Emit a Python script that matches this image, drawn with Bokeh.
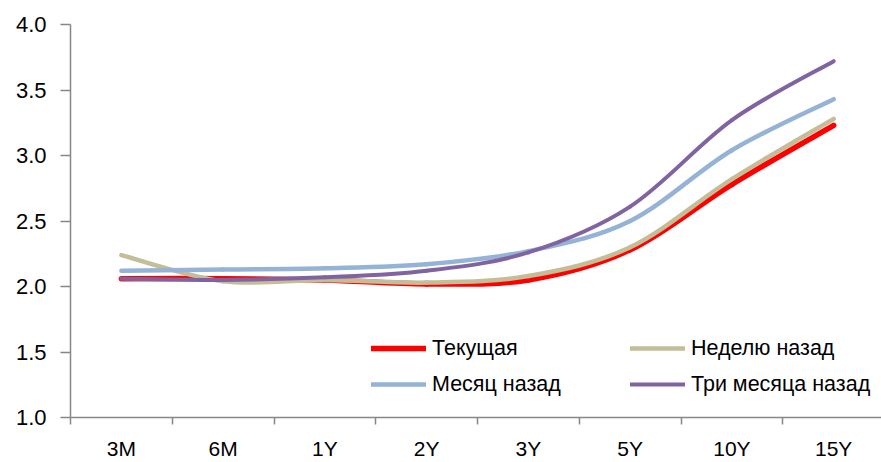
from bokeh.plotting import figure
from bokeh.models import FixedTicker, Range1d, Legend, LegendItem
from bokeh.embed import file_html
from bokeh.resources import INLINE

categories = ["3M", "6M", "1Y", "2Y", "3Y", "5Y", "10Y", "15Y"]
current = [2.06, 2.06, 2.05, 2.02, 2.05, 2.28, 2.78, 3.23]
week_ago = [2.24, 2.04, 2.05, 2.03, 2.08, 2.30, 2.82, 3.28]
month_ago = [2.12, 2.13, 2.14, 2.17, 2.27, 2.50, 3.04, 3.43]
three_months_ago = [2.06, 2.05, 2.07, 2.12, 2.26, 2.61, 3.27, 3.72]
series_names = ["Текущая", "Неделю назад", "Месяц назад", "Три месяца назад"]
y_ticks = [1.0, 1.5, 2.0, 2.5, 3.0, 3.5, 4.0]

series = [current, week_ago, month_ago, three_months_ago]
colors = ["#FF0000", "#C4BD97", "#95B3D7", "#8064A2"]
widths = [5.5, 4.5, 4.5, 4]

FONT = "Liberation Sans"

p = figure(width=881, height=462, output_backend="svg", toolbar_location=None,
           x_range=Range1d(0, 7.97), y_range=Range1d(1.0, 4.0),
           min_border_left=70, min_border_right=0, min_border_top=24, min_border_bottom=44)
p.outline_line_color = None
p.grid.visible = False
p.background_fill_color = "white"
p.border_fill_color = "white"

xs = [i + 0.5 for i in range(len(categories))]


def smooth_segments(x, y):
    n = len(x)
    segs = dict(x0=[], y0=[], x1=[], y1=[], cx0=[], cy0=[], cx1=[], cy1=[])
    for i in range(n - 1):
        xp = x[i - 1] if i > 0 else x[i]
        yp = y[i - 1] if i > 0 else y[i]
        xn = x[i + 2] if i + 2 < n else x[i + 1]
        yn = y[i + 2] if i + 2 < n else y[i + 1]
        segs["x0"].append(x[i]); segs["y0"].append(y[i])
        segs["x1"].append(x[i + 1]); segs["y1"].append(y[i + 1])
        segs["cx0"].append(x[i] + (x[i + 1] - xp) / 6)
        segs["cy0"].append(y[i] + (y[i + 1] - yp) / 6)
        segs["cx1"].append(x[i + 1] - (xn - x[i]) / 6)
        segs["cy1"].append(y[i + 1] - (yn - y[i]) / 6)
    return segs


items = []
for name, vals, col, w in zip(series_names, series, colors, widths):
    s = smooth_segments(xs, vals)
    r = p.bezier(line_color=col, line_width=w, line_cap="round", **s)
    items.append(LegendItem(label=name, renderers=[r]))

legend = Legend(items=items, ncols=2, location=(301, 18),
                orientation="horizontal",
                label_text_font=FONT, label_text_font_size="21.5px", label_text_color="#000000",
                glyph_width=55, glyph_height=30, label_height=30, label_width=192,
                label_standoff=6, spacing=6, padding=0, margin=0,
                background_fill_alpha=0, border_line_alpha=0)
p.add_layout(legend, "center")

# x axis: labels centred in categories, ticks on category boundaries
xa = p.xaxis[0]
xa.ticker = FixedTicker(ticks=xs, minor_ticks=list(range(len(categories) + 1)))
xa.major_label_overrides = {x: c for x, c in zip(xs, categories)}
xa.major_tick_out = 0
xa.major_tick_in = 0
xa.minor_tick_out = 7
xa.minor_tick_in = 0
xa.minor_tick_line_color = "#878787"
xa.minor_tick_line_width = 1.5
xa.axis_line_color = "#878787"
xa.axis_line_width = 1.5
xa.major_label_standoff = 12
xa.major_label_text_font = FONT
xa.major_label_text_font_size = "21px"
xa.major_label_text_color = "#000000"

ya = p.yaxis[0]
ya.ticker = FixedTicker(ticks=y_ticks, minor_ticks=[])
ya.major_label_overrides = {t: f"{t:.1f}" for t in y_ticks}
ya.major_tick_out = 10
ya.major_tick_in = 0
ya.major_tick_line_color = "#878787"
ya.major_tick_line_width = 1.5
ya.axis_line_color = "#878787"
ya.axis_line_width = 1.5
ya.major_label_standoff = 14
ya.major_label_text_font = FONT
ya.major_label_text_font_size = "22px"
ya.major_label_text_color = "#000000"

open("out.html", "w").write(file_html(p, INLINE))
